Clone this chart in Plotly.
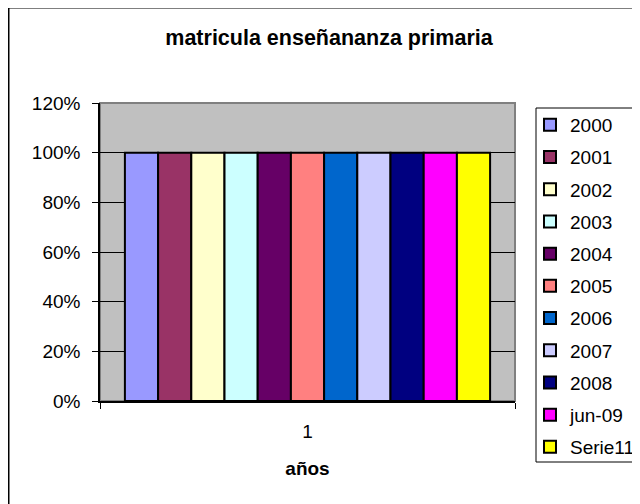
import plotly.graph_objects as go

categories = ["1"]
series_names = ["2000", "2001", "2002", "2003", "2004", "2005", "2006", "2007", "2008", "jun-09", "Serie11"]
series_values = [1.0, 1.0, 1.0, 1.0, 1.0, 1.0, 1.0, 1.0, 1.0, 1.0, 1.0]
series_colors = ["#9999FF", "#993366", "#FFFFCC", "#CCFFFF", "#660066", "#FF8080",
                 "#0066CC", "#CCCCFF", "#000080", "#FF00FF", "#FFFF00"]
y_ticks = [0, 0.2, 0.4, 0.6, 0.8, 1.0, 1.2]

FONT = "Liberation Sans, Arial, sans-serif"

fig = go.Figure()
for name, val, col in zip(series_names, series_values, series_colors):
    fig.add_trace(go.Bar(
        x=categories, y=[val], name=name, legendgroup=name,
        marker=dict(color=col, line=dict(color="black", width=2)),
    ))

# page has an 8px body margin: figure coords = page coords - 8
OFF = 8
W, H = 632, 496
L, R, T, B = 100 - OFF, W - (515 - OFF), 103 - OFF, H - (401 - OFF)
pw, ph = W - L - R, H - T - B

def px_x(px):  # page pixel -> paper
    return (px - OFF - L) / pw

def px_y(py):
    return (H - B - (py - OFF)) / ph

fig.update_layout(
    width=W, height=H,
    margin=dict(l=L, r=R, t=T, b=B, pad=0, autoexpand=False),
    paper_bgcolor="white",
    plot_bgcolor="#C0C0C0",
    barmode="group", bargap=0.12, bargroupgap=0,
    font=dict(family=FONT, size=19, color="black"),
    title=dict(text="matricula enseñananza primaria", x=(329 - OFF) / W, xref="container", xanchor="center",
               y=1 - (37 - OFF) / H, yref="container", yanchor="middle",
               font=dict(family=FONT, size=21.5, weight="bold", color="black")),
    showlegend=True,
    legend=dict(x=px_x(530), y=px_y(106), xanchor="left", yanchor="top",
                bgcolor="rgba(0,0,0,0)", borderwidth=0, maxheight=420,
                tracegroupgap=4.5, traceorder="grouped",
                font=dict(family=FONT, size=19, color="black")),
    xaxis=dict(type="category", showline=True, linecolor="black", linewidth=1.5,
               ticks="outside", tickson="boundaries", ticklen=6, tickcolor="black",
               ticklabelstandoff=12, showgrid=False,
               title=dict(text="años", standoff=21,
                          font=dict(family=FONT, size=19, weight="bold", color="black"))),
    yaxis=dict(range=[0, 1.2], tickvals=y_ticks, tickformat=".0%",
               showline=True, linecolor="black", linewidth=1.5,
               ticks="outside", ticklen=6, tickcolor="black",
               showgrid=True, gridcolor="black", gridwidth=1,
               ticklabelstandoff=8, zeroline=False),
    shapes=[
        dict(type="rect", xref="paper", yref="paper", x0=0, x1=1, y0=0, y1=1,
             line=dict(color="#808080", width=2), layer="between"),
        # outer chart frame: left edge and top edge drawn as thin filled strips
        dict(type="rect", xref="paper", yref="paper",
             x0=px_x(8), x1=px_x(9.5), y0=px_y(7), y1=px_y(520),
             line=dict(width=0), fillcolor="black", layer="above"),
        dict(type="rect", xref="paper", yref="paper",
             x0=px_x(8), x1=px_x(700), y0=px_y(7), y1=px_y(8.5),
             line=dict(width=0), fillcolor="black", layer="above"),
        dict(type="rect", xref="paper", yref="paper",
             x0=px_x(536), x1=px_x(660), y0=px_y(108), y1=px_y(462),
             line=dict(color="black", width=1), fillcolor="white", layer="below"),
    ],
)

fig.write_html("out.html")
